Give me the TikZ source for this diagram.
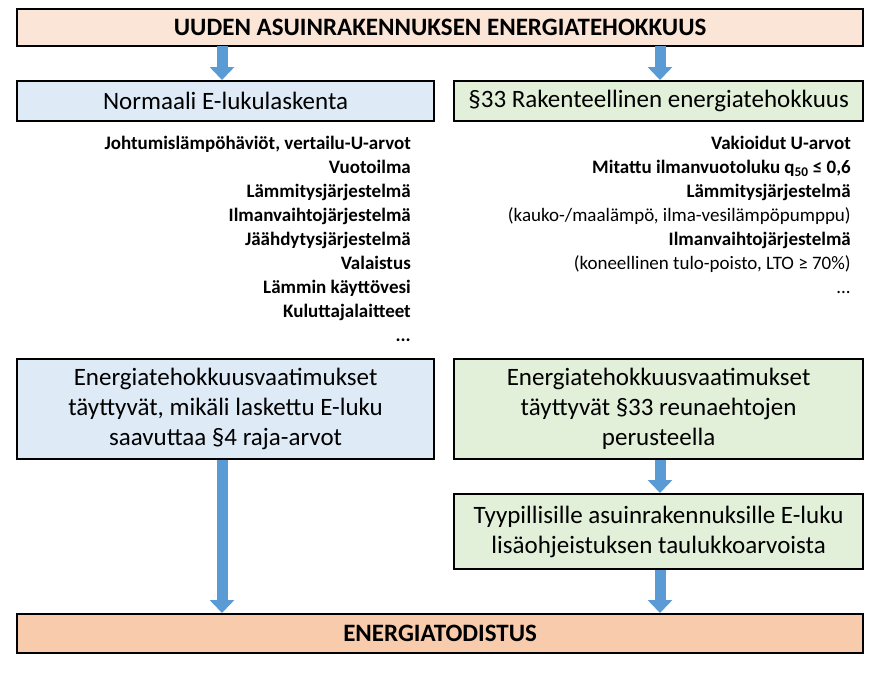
\documentclass[tikz,border=0pt]{standalone}
\usepackage{fontspec}
\setmainfont{Carlito}
\usetikzlibrary{arrows.meta}
\definecolor{peach}{HTML}{FBE5D6}
\definecolor{peachd}{HTML}{F8CBAD}
\definecolor{lblue}{HTML}{DEEBF7}
\definecolor{lgreen}{HTML}{E2F0D9}
\definecolor{abl}{HTML}{5B9BD5}
\tikzset{
 box/.style={draw=black,line width=2.2pt,inner sep=0pt,anchor=north west,align=center,font=\fontsize{25}{30}\selectfont},
 fat/.style={draw=abl,line width=11pt,-{Triangle[width=24pt,length=13pt]}},
 lst/.style={anchor=north east,align=right,font=\fontsize{19}{24}\selectfont,inner sep=0pt}
}
\begin{document}
\begin{tikzpicture}[x=1pt,y=-1pt]
\useasboundingbox (0,0) rectangle (887,675);
\node[box,fill=peach,minimum width=846pt,minimum height=37pt] (top) at (16,8) {\bfseries UUDEN ASUINRAKENNUKSEN ENERGIATEHOKKUUS};
\node[box,fill=lblue,minimum width=417pt,minimum height=40pt] (nl) at (16,80) {Normaali E-lukulaskenta};
\node[box,fill=lgreen,minimum width=409pt,minimum height=40pt] (nr) at (453,80) {§33 Rakenteellinen energiatehokkuus};
\node[lst] (ll) at (411,136) {\bfseries Johtumislämpöhäviöt, vertailu-U-arvot\\ \bfseries Vuotoilma\\ \bfseries Lämmitysjärjestelmä\\ \bfseries Ilmanvaihtojärjestelmä\\ \bfseries Jäähdytysjärjestelmä\\ \bfseries Valaistus\\ \bfseries Lämmin käyttövesi\\ \bfseries Kuluttajalaitteet\\ \bfseries ...};
\node[lst] (rl) at (851,136) {\bfseries Vakioidut U-arvot\\ \bfseries Mitattu ilmanvuotoluku q\textsubscript{50} ≤ 0,6\\ \bfseries Lämmitysjärjestelmä\\ (kauko-/maalämpö, ilma-vesilämpöpumppu)\\ \bfseries Ilmanvaihtojärjestelmä\\ (koneellinen tulo-poisto, LTO ≥ 70\%)\\ ...};
\node[box,fill=lblue,minimum width=417pt,minimum height=100pt] (el) at (16,358) {Energiatehokkuusvaatimukset\\täyttyvät, mikäli laskettu E-luku\\saavuttaa §4 raja-arvot};
\node[box,fill=lgreen,minimum width=409pt,minimum height=100pt] (er) at (453,358) {Energiatehokkuusvaatimukset\\täyttyvät §33 reunaehtojen\\perusteella};
\node[box,fill=lgreen,minimum width=409pt,minimum height=75pt] (ty) at (453,493) {Tyypillisille asuinrakennuksille E-luku\\lisäohjeistuksen taulukkoarvoista};
\node[box,fill=peachd,minimum width=846pt,minimum height=39pt] (ed) at (16,613) {\bfseries ENERGIATODISTUS};
\coordinate (a1) at (222,45.5); \coordinate (a2) at (660,45.5);
\draw[fat] (a1) -- (a1 |- nl.north);
\draw[fat] (a2) -- (a2 |- nr.north);
\draw[fat] (a1 |- el.south) -- (a1 |- ed.north);
\draw[fat] (a2 |- er.south) -- (a2 |- ty.north);
\draw[fat] (a2 |- ty.south) -- (a2 |- ed.north);
\end{tikzpicture}
\end{document}
